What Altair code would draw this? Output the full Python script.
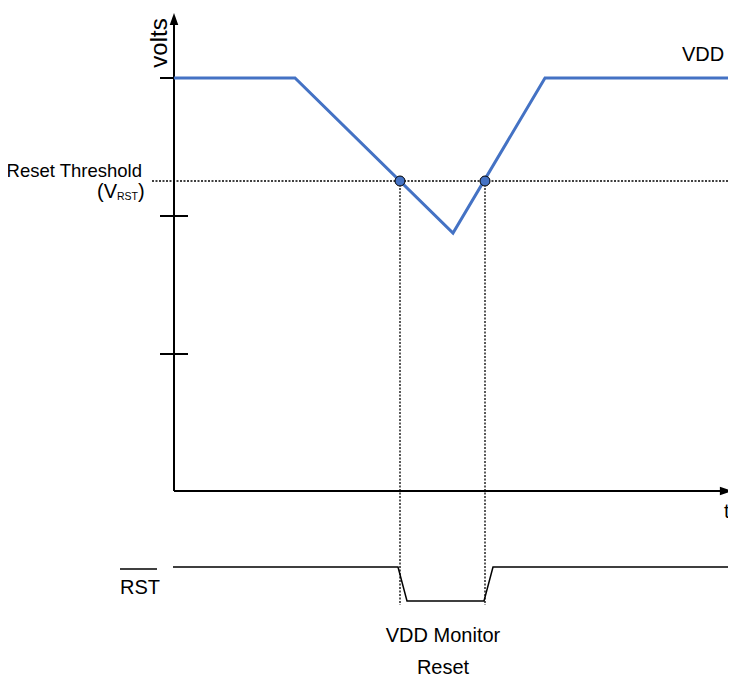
import altair as alt
import pandas as pd

# ---- values (time units / volt units of the schematic) ----
vdd_time = [0, 121, 279, 371, 570]
vdd_volts = [413, 413, 258, 413, 413]

threshold_volts = 310
threshold_from, threshold_to = -22, 570
crossing_times = [226, 311]
drop_bottom = -114

tick_volts = [413, 275, 137]
tick_half = 14

rst_time = [-1, 224, 233, 310, 319, 570]
rst_level = [-76, -76, -110, -110, -76, -76]

y_axis_top = 472
x_axis_end = 552

FONT = "Liberation Sans, Arial, sans-serif"
BLUE = "#4472C4"

X = dict(scale=alt.Scale(domain=[-166, 554], nice=False, zero=False), axis=None)
Y = dict(scale=alt.Scale(domain=[-185, 483], nice=False, zero=False), axis=None)


def xq(f):
    return alt.X(f"{f}:Q", **X)


def yq(f):
    return alt.Y(f"{f}:Q", **Y)


# axes lines
axes_df = pd.DataFrame({
    "t": [0, 0], "t2": [0, x_axis_end - 4],
    "v": [0, 0], "v2": [y_axis_top - 4, 0],
})
axes = alt.Chart(axes_df).mark_rule(color="black", strokeWidth=2).encode(
    x=xq("t"), x2="t2", y=yq("v"), y2="v2")

up_arrow = alt.Chart(pd.DataFrame({"t": [0], "v": [y_axis_top]})).mark_point(
    shape="M0,-1L0.7,1L-0.7,1Z", filled=True, size=150, color="black", opacity=1
).encode(x=xq("t"), y=yq("v"))
right_arrow = alt.Chart(pd.DataFrame({"t": [x_axis_end], "v": [0]})).mark_point(
    shape="M1,0L-1,0.7L-1,-0.7Z", filled=True, size=150, color="black", opacity=1
).encode(x=xq("t"), y=yq("v"))

ticks_df = pd.DataFrame({"v": tick_volts, "t": [-tick_half] * 3, "t2": [tick_half] * 3})
ticks = alt.Chart(ticks_df).mark_rule(color="black", strokeWidth=2).encode(
    x=xq("t"), x2="t2", y=yq("v"))

# threshold dotted line
thr = alt.Chart(pd.DataFrame({"t": [threshold_from], "t2": [threshold_to], "v": [threshold_volts]})).mark_rule(
    color="black", strokeWidth=1.3, strokeDash=[2, 1.5]).encode(x=xq("t"), x2="t2", y=yq("v"))

drops_df = pd.DataFrame({"t": crossing_times, "v": [threshold_volts] * 2, "v2": [drop_bottom] * 2})
drops = alt.Chart(drops_df).mark_rule(color="black", strokeWidth=1.3, strokeDash=[2, 1.5]).encode(
    x=xq("t"), y=yq("v"), y2="v2")

# VDD line
vdd_df = pd.DataFrame({"t": vdd_time, "v": vdd_volts, "i": range(len(vdd_time))})
vdd = alt.Chart(vdd_df).mark_line(color=BLUE, strokeWidth=3).encode(
    x=xq("t"), y=yq("v"), order="i:Q")

# RST line
rst_df = pd.DataFrame({"t": rst_time, "v": rst_level, "i": range(len(rst_time))})
rst = alt.Chart(rst_df).mark_line(color="black", strokeWidth=1.5).encode(
    x=xq("t"), y=yq("v"), order="i:Q")

# crossing markers
dots = alt.Chart(pd.DataFrame({"t": crossing_times, "v": [threshold_volts] * 2})).mark_point(
    shape="circle", filled=True, size=100, color=BLUE, stroke="black", strokeWidth=1, opacity=1
).encode(x=xq("t"), y=yq("v"))

# overline of RST
overline = alt.Chart(pd.DataFrame({"t": [-54], "t2": [-17], "v": [-78]})).mark_rule(
    color="black", strokeWidth=1.3).encode(x=xq("t"), x2="t2", y=yq("v"))


def text_layer(df, align, size=20, **kw):
    return alt.Chart(df).mark_text(align=align, baseline="alphabetic", font=FONT,
                                   fontSize=size, color="black", **kw).encode(
        x=xq("t"), y=yq("v"), text="text:N")


labels_df = pd.DataFrame({
    "t": [508, -54, 269, 269, 550],
    "v": [430, -103, -151, -183, -27],
    "text": ["VDD", "RST", "VDD Monitor", "Reset", "t"],
    "align": ["left", "left", "center", "center", "left"],
})
texts = []
for al in ["left", "center"]:
    texts.append(text_layer(labels_df[labels_df["align"] == al], al))

thr_label = text_layer(pd.DataFrame({"t": [-32], "v": [314], "text": ["Reset Threshold"]}), "right", size=18.5)
vrst_a = text_layer(pd.DataFrame({"t": [-57], "v": [293], "text": ["(V"]}), "right")
vrst_b = text_layer(pd.DataFrame({"t": [-57], "v": [291], "text": ["RST"]}), "left", size=10.5)
vrst_c = text_layer(pd.DataFrame({"t": [-36], "v": [293], "text": [")"]}), "left")

volts = alt.Chart(pd.DataFrame({"t": [-14], "v": [448], "text": ["volts"]})).mark_text(
    align="center", baseline="middle", angle=270, font=FONT,
    fontSize=24, color="black").encode(x=xq("t"), y=yq("v"), text="text:N")

chart = alt.layer(
    thr, drops, axes, up_arrow, right_arrow, ticks, vdd, rst, dots, overline,
    *texts, thr_label, vrst_a, vrst_b, vrst_c, volts
).properties(
    width=720, height=668, padding=0,
    autosize=alt.AutoSizeParams(type="none"),
).configure_view(stroke=None)

chart.save("out.html", embed_options={"renderer": "svg", "actions": False})
